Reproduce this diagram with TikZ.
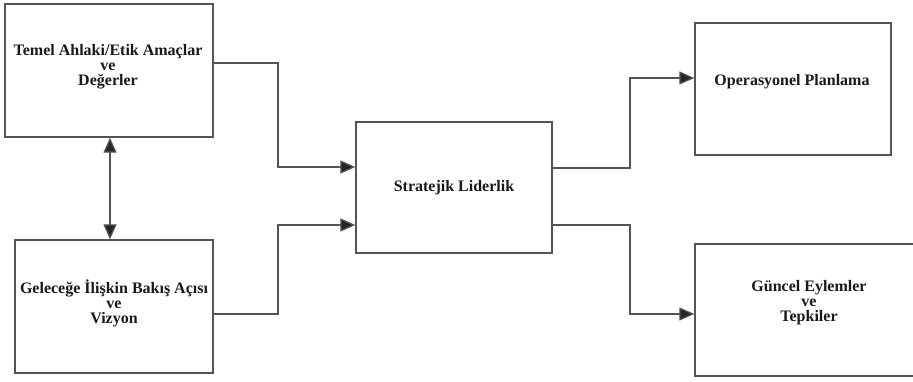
\documentclass[tikz,border=0pt]{standalone}
\usepackage{fontspec}
\setmainfont{Liberation Serif}
\usetikzlibrary{arrows.meta}
\definecolor{edge}{HTML}{555555}
\tikzset{
  box/.style={draw=edge, line width=1.3pt, minimum width=#1, inner sep=0pt},
  label/.style={font=\bfseries\fontsize{16}{15}\selectfont, align=center, text=black!90, inner sep=0pt},
  tip/.style={Triangle[length=15pt,width=13pt,fill=black!85,draw=black!85,line width=0.5pt]},
  conn/.style={draw=edge, line width=1.2pt, -{Triangle[length=15pt,width=13pt,fill=black!85]}},
  both/.style={draw=edge, line width=1.2pt, {Triangle[length=15pt,width=13pt,fill=black!85]}-{Triangle[length=15pt,width=13pt,fill=black!85]}}
}
\begin{document}
\begin{tikzpicture}[x=1pt, y=-1pt]
  \useasboundingbox (0,0) rectangle (913,382);
  \begin{scope}
    \clip (0,0) rectangle (913,382);
    % boxes
    \node[box=208pt, minimum height=133pt] (A) at (109,70.5) {};
    \node[box=198pt, minimum height=133pt] (B) at (114,306.5) {};
    \node[box=196pt, minimum height=131pt] (C) at (454,187.5) {};
    \node[box=196pt, minimum height=132pt] (D) at (793,89) {};
    \node[box=228pt, minimum height=132pt] (E) at (809,310) {};
  \end{scope}
  % texts
  \node[label] (tA) at (108,67) {Temel Ahlaki/Etik Amaçlar\\ve\\Değerler};
  \node[label] (tB) at (114,303) {Geleceğe İlişkin Bakış Açısı\\ve\\Vizyon};
  \node[label] (tC) at (454,188) {Stratejik Liderlik};
  \node[label] (tD) at (792,82) {Operasyonel Planlama};
  \node[label] (tE) at (809,303) {Güncel Eylemler\\ve\\Tepkiler};
  % connectors
  \draw[both] (A.south -| 110,0) -- (B.north -| 110,0);
  \draw[conn] (A.east |- 0,63) -- (278,63) |- (C.west |- 0,167);
  \draw[conn] (B.east |- 0,314) -- (278,314) |- (C.west |- 0,225);
  \draw[conn] (C.east |- 0,168) -- (630,168) |- (D.west |- 0,78);
  \draw[conn] (C.east |- 0,225) -- (630,225) |- (E.west |- 0,314);
\end{tikzpicture}
\end{document}
